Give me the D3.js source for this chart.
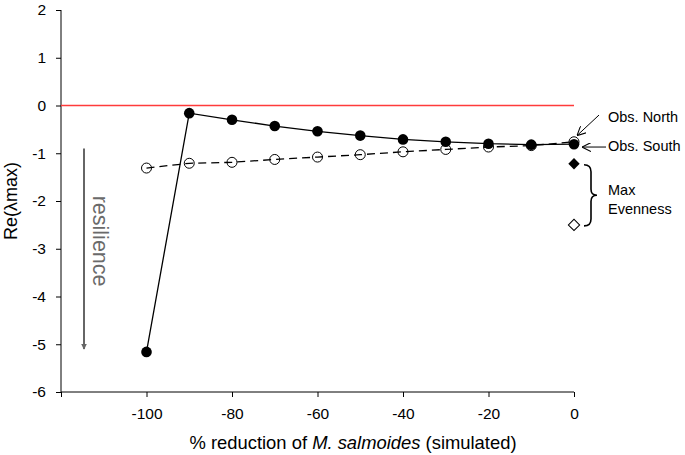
<!DOCTYPE html>
<html lang="en">
<head>
    <meta charset="UTF-8">
    <title>Re(lambda max) vs reduction</title>
    <script src="https://cdnjs.cloudflare.com/ajax/libs/d3/7.8.5/d3.min.js"></script>
    <style>
        body { margin: 0; background: #fff; }
        svg { font-family: 'Liberation Sans', Arial, sans-serif; }
        .axis path, .axis line { stroke: #000; stroke-width: 1px; }
        .axis text { font-size: 15.5px; fill: #000; }
    </style>
</head>
<body>
    <svg id="main" width="685" height="455"></svg>
    <script>
        "use strict";

        // data
        const reduction = [-100, -90, -80, -70, -60, -50, -40, -30, -20, -10, 0];
        const observedNorth = [-5.16, -0.16, -0.30, -0.43, -0.54, -0.63, -0.71, -0.76, -0.80, -0.82, -0.81];
        const observedSouth = [-1.31, -1.21, -1.19, -1.13, -1.08, -1.03, -0.97, -0.92, -0.87, -0.84, -0.76];
        const evennessFilled = -1.22;
        const evennessOpen = -2.50;
        const xTicks = [-100, -80, -60, -40, -20, 0];
        const yTicks = [2, 1, 0, -1, -2, -3, -4, -5, -6];

        !function () {
            const svg = d3.select("#main");
            const plotLeft = 61, plotRight = 574, plotTop = 10, plotBottom = 392;

            const x = d3.scaleLinear().domain([-120, 0]).range([plotLeft, plotRight]);
            const y = d3.scaleLinear().domain([-6, 2]).range([plotBottom, plotTop]);

            // plain hyphen for negatives, like the original
            const fmt = d => String(d);

            // axes
            svg.append("g")
                .attr("class", "axis")
                .attr("transform", "translate(0," + plotBottom + ")")
                .call(d3.axisBottom(x).tickValues([-120].concat(xTicks)).tickSize(5).tickPadding(11)
                    .tickFormat(d => d === -120 ? "" : fmt(d)))
                .call(g => g.select(".domain").attr("d", "M" + plotLeft + ",0H" + plotRight));

            svg.append("g")
                .attr("class", "axis")
                .attr("transform", "translate(" + plotLeft + ",0)")
                .call(d3.axisLeft(y).tickValues(yTicks).tickSize(5).tickPadding(10).tickFormat(fmt))
                .call(g => g.select(".domain").attr("d", "M0," + plotTop + "V" + plotBottom));

            svg.selectAll(".axis text").style("font-family", "'Liberation Sans', Arial, sans-serif");

            // zero line
            svg.append("line")
                .attr("x1", x(-120)).attr("x2", x(0))
                .attr("y1", y(0)).attr("y2", y(0))
                .attr("stroke", "#ff3b3b").attr("stroke-width", 1.5);

            // axis titles
            svg.append("text")
                .attr("transform", "translate(16.5," + y(-2) + ") rotate(-90)")
                .attr("text-anchor", "middle")
                .attr("font-size", 18)
                .text("Re(\u03bbmax)");

            const xt = svg.append("text")
                .attr("x", 353).attr("y", 449)
                .attr("text-anchor", "middle")
                .attr("font-size", 18.4);
            xt.append("tspan").text("% reduction of ");
            xt.append("tspan").attr("font-style", "italic").text("M. salmoides");
            xt.append("tspan").text(" (simulated)");

            // arrow heads
            const defs = svg.append("defs");
            defs.append("marker")
                .attr("id", "grayHead")
                .attr("viewBox", "0 0 10 10").attr("refX", 9).attr("refY", 5)
                .attr("markerWidth", 6).attr("markerHeight", 7)
                .attr("markerUnits", "userSpaceOnUse")
                .attr("orient", "auto")
                .append("path").attr("d", "M0,0L10,5L0,10Z").attr("fill", "#666");
            defs.append("marker")
                .attr("id", "thinHead")
                .attr("viewBox", "0 0 10 10").attr("refX", 10).attr("refY", 5)
                .attr("markerWidth", 9).attr("markerHeight", 9)
                .attr("markerUnits", "userSpaceOnUse")
                .attr("orient", "auto")
                .append("path").attr("d", "M0,0L10,5L0,10").attr("fill", "none").attr("stroke", "#000").attr("stroke-width", 1.2);

            // resilience arrow
            svg.append("line")
                .attr("x1", 84).attr("x2", 84)
                .attr("y1", y(-0.9)).attr("y2", y(-5.1))
                .attr("stroke", "#666").attr("stroke-width", 2)
                .attr("marker-end", "url(#grayHead)");

            svg.append("text")
                .attr("transform", "translate(93," + y(-2.84) + ") rotate(90)")
                .attr("text-anchor", "middle")
                .attr("font-size", 21.5)
                .attr("fill", "#6a6a6a")
                .text("resilience");

            // series lines
            const line = d3.line().x((d, i) => x(reduction[i])).y(d => y(d));

            svg.append("path")
                .datum(observedSouth)
                .attr("d", line)
                .attr("fill", "none").attr("stroke", "#000").attr("stroke-width", 1.3)
                .attr("stroke-dasharray", "8,5");

            svg.append("path")
                .datum(observedNorth)
                .attr("d", line)
                .attr("fill", "none").attr("stroke", "#000").attr("stroke-width", 1.3);

            svg.selectAll("circle.open")
                .data(observedSouth)
                .join("circle")
                .attr("class", "open")
                .attr("cx", (d, i) => x(reduction[i]))
                .attr("cy", d => y(d))
                .attr("r", 5)
                .attr("fill", "none").attr("stroke", "#000").attr("stroke-width", 1);

            svg.selectAll("circle.filled")
                .data(observedNorth)
                .join("circle")
                .attr("class", "filled")
                .attr("cx", (d, i) => x(reduction[i]))
                .attr("cy", d => y(d))
                .attr("r", 5.3)
                .attr("fill", "#000");

            // max evenness diamonds
            const diamond = d3.symbol().type(d3.symbolSquare).size(64);
            svg.append("path")
                .attr("d", diamond)
                .attr("transform", "translate(" + x(0) + "," + y(evennessFilled) + ") rotate(45)")
                .attr("fill", "#000");
            svg.append("path")
                .attr("d", diamond)
                .attr("transform", "translate(" + x(0) + "," + y(evennessOpen) + ") rotate(45)")
                .attr("fill", "#fff").attr("stroke", "#000").attr("stroke-width", 1);

            // annotations
            const x0 = x(0);
            svg.append("line")
                .attr("x1", x0 + 25).attr("y1", y(-0.2))
                .attr("x2", x0 + 3).attr("y2", y(-0.63))
                .attr("stroke", "#000").attr("stroke-width", 1)
                .attr("marker-end", "url(#thinHead)");
            svg.append("line")
                .attr("x1", x0 + 32).attr("y1", y(-0.87))
                .attr("x2", x0 + 8).attr("y2", y(-0.87))
                .attr("stroke", "#000").attr("stroke-width", 1)
                .attr("marker-end", "url(#thinHead)");

            svg.append("text").attr("x", x0 + 34).attr("y", 122).attr("font-size", 14.5).text("Obs. North");
            svg.append("text").attr("x", x0 + 34).attr("y", 151).attr("font-size", 14.5).text("Obs. South");

            const bt = y(evennessFilled) + 1, bb = y(evennessOpen) + 1, bm = (bt + bb) / 2;
            const bx = x0 + 17;
            svg.append("path")
                .attr("d", "M" + (x0 + 10) + "," + bt +
                    "Q" + bx + "," + bt + " " + bx + "," + (bt + 7) +
                    "L" + bx + "," + (bm - 6) +
                    "Q" + bx + "," + bm + " " + (bx + 6) + "," + bm +
                    "Q" + bx + "," + bm + " " + bx + "," + (bm + 6) +
                    "L" + bx + "," + (bb - 7) +
                    "Q" + bx + "," + bb + " " + (x0 + 10) + "," + bb)
                .attr("fill", "none").attr("stroke", "#000").attr("stroke-width", 1.6);

            svg.append("text").attr("x", x0 + 34).attr("y", 195).attr("font-size", 14.5).text("Max");
            svg.append("text").attr("x", x0 + 34).attr("y", 214).attr("font-size", 14.5).text("Evenness");
        }();
    </script>
</body>
</html>
